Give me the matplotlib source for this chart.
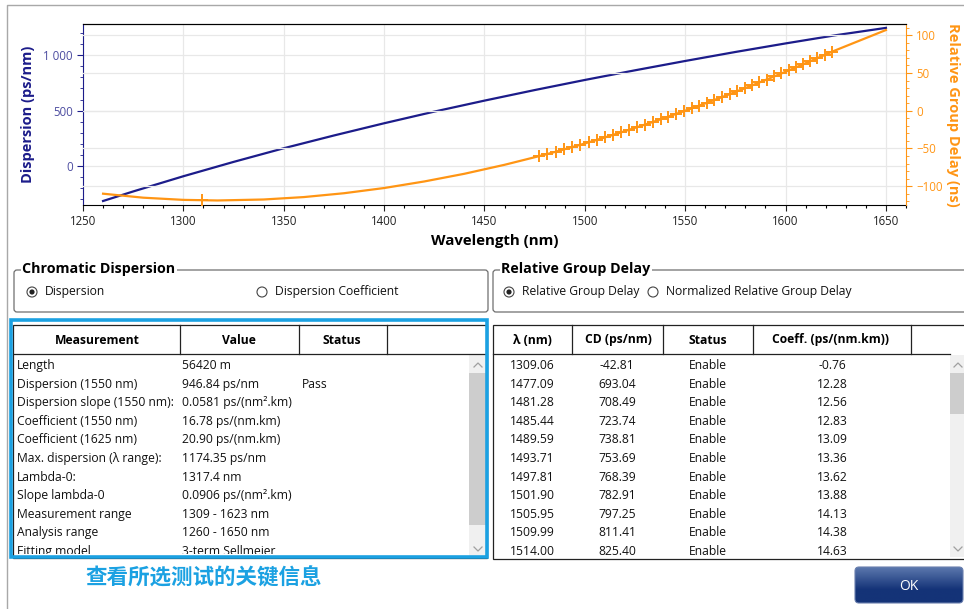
import numpy as np
import matplotlib.pyplot as plt
from matplotlib.patches import Rectangle, FancyBboxPatch, Circle
from matplotlib.ticker import MultipleLocator, FuncFormatter

plt.rcParams['font.family'] = ['Open Sans', 'DejaVu Sans']

# dispersion curve (ps/nm)
disp_wl = [1260, 1275, 1300, 1325, 1350, 1375, 1400, 1425, 1450, 1475, 1500,
           1525, 1550, 1575, 1600, 1625, 1650]
disp_val = [-314, -228, -91, 38, 161, 276, 386, 491, 590, 685, 776,
            863, 947, 1028, 1105, 1179, 1245]

# relative group delay (ns): fitted curve outside the measured points
rgd_head_wl = [1260, 1280, 1300, 1317, 1340, 1360, 1380, 1400, 1420, 1440, 1460]
rgd_head_val = [-110, -115.3, -118.2, -119, -117.7, -114.5, -109.4, -102.5, -93.8, -83.6, -71.7]
rgd_tail_wl = [1650]
rgd_tail_val = [107]

# measured points (markers)
pts_wl = [1309.06, 1477.09, 1481.28, 1485.44, 1489.59, 1493.71, 1497.81, 1501.90,
          1505.95, 1509.99, 1514.00, 1518.00, 1521.98, 1525.94, 1529.88, 1533.80,
          1537.71, 1541.60, 1545.47, 1549.32, 1553.16, 1556.98, 1560.78, 1564.57,
          1568.34, 1572.09, 1575.83, 1579.55, 1583.25, 1586.94, 1590.61, 1594.27,
          1597.91, 1601.53, 1605.14, 1608.74, 1612.32, 1615.88, 1619.43, 1622.97]
pts_val = [-118.8, -60.3, -57.4, -54.4, -51.3, -48.2, -45.1, -41.9,
           -38.7, -35.4, -32.1, -28.7, -25.3, -21.9, -18.4, -15.0,
           -11.4, -7.8, -4.2, -0.6, 3.1, 6.8, 10.5, 14.3,
           18.1, 21.9, 25.8, 29.6, 33.5, 37.5, 41.4, 45.4,
           49.4, 53.4, 57.5, 61.6, 65.7, 69.8, 73.9, 78.1]

# summary table
meas_names = ["Length", "Dispersion (1550 nm)", "Dispersion slope (1550 nm):",
              "Coefficient (1550 nm)", "Coefficient (1625 nm)",
              "Max. dispersion (\u03bb range):", "Lambda-0:", "Slope lambda-0",
              "Measurement range", "Analysis range", "Fitting model"]
meas_values = ["56420 m", "946.84 ps/nm", "0.0581 ps/(nm\u00b2.km)", "16.78 ps/(nm.km)",
               "20.90 ps/(nm.km)", "1174.35 ps/nm", "1317.4 nm", "0.0906 ps/(nm\u00b2.km)",
               "1309 - 1623 nm", "1260 - 1650 nm", "3-term Sellmeier"]
meas_status = ["", "Pass", "", "", "", "", "", "", "", "", ""]

# point table
tab_lam = ["1309.06", "1477.09", "1481.28", "1485.44", "1489.59", "1493.71",
           "1497.81", "1501.90", "1505.95", "1509.99", "1514.00"]
tab_cd = ["-42.81", "693.04", "708.49", "723.74", "738.81", "753.69",
          "768.39", "782.91", "797.25", "811.41", "825.40"]
tab_coef = ["-0.76", "12.28", "12.56", "12.83", "13.09", "13.36",
            "13.62", "13.88", "14.13", "14.38", "14.63"]

navy = '#1c1c8a'
orange = '#ff9514'
cyan = '#1ba1e2'
fs = 8.7

W, H = 964, 609
fig = plt.figure(figsize=(W / 100, H / 100), dpi=100)


def frac(x0, y0, x1, y1):
    return [x0 / W, 1 - y1 / H, (x1 - x0) / W, (y1 - y0) / H]


ui = fig.add_axes([0, 0, 1, 1], zorder=0)
ui.set_xlim(0, W)
ui.set_ylim(H, 0)
ui.axis('off')

# ---- chart ----
ax = fig.add_axes(frac(83, 24, 906, 205), zorder=2)
ax2 = ax.twinx()
ax.plot(disp_wl, disp_val, color=navy, lw=1.6, zorder=3)
line_wl = np.concatenate([rgd_head_wl, pts_wl[1:], rgd_tail_wl])
line_val = np.concatenate([rgd_head_val, pts_val[1:], rgd_tail_val])
ax2.plot(line_wl, line_val, color=orange, lw=1.6)
ax2.plot(pts_wl, pts_val, ls='none', marker='+', ms=8.5, mew=1.4, color=orange)

ax.set_xlim(1250, 1660)
ax.set_ylim(-350, 1280)
ax2.set_ylim(-125, 115)
ax.xaxis.set_major_locator(MultipleLocator(50))
ax.xaxis.set_minor_locator(MultipleLocator(10))
ax.yaxis.set_major_locator(MultipleLocator(500))
ax.yaxis.set_minor_locator(MultipleLocator(100))
ax2.yaxis.set_major_locator(MultipleLocator(50))
ax2.yaxis.set_minor_locator(MultipleLocator(10))
ax.yaxis.set_major_formatter(FuncFormatter(lambda v, p: format(int(v), ',').replace(',', ' ')))
ax.grid(True, color='#e8e8e8', lw=0.9)
ax2.grid(True, axis='y', color='#e8e8e8', lw=0.9)
ax.set_axisbelow(True)
ax2.set_axisbelow(True)

ax.tick_params(axis='x', labelsize=8.3, colors='#222222', length=4, width=0.8)
ax.tick_params(axis='x', which='minor', length=2, width=0.8)
ax.tick_params(axis='y', labelsize=8.3, colors=navy, labelcolor='#4c4ca0', length=4, width=0.8)
ax.tick_params(axis='y', which='minor', length=2, colors=navy)
ax2.tick_params(axis='y', labelsize=8.3, colors=orange, length=4, width=0.8)
ax2.tick_params(axis='y', which='minor', length=2, colors=orange)

ax.spines['left'].set_color(navy)
ax.spines['right'].set_visible(False)
ax2.spines['left'].set_visible(False)
ax2.spines['right'].set_color(orange)
ax2.spines['top'].set_color('black')
ax2.spines['bottom'].set_visible(False)

ax.set_xlabel('Wavelength (nm)', fontsize=10.8, fontweight='bold', labelpad=4)
ax.set_ylabel('Dispersion (ps/nm)', fontsize=10.5, fontweight='bold', color=navy, labelpad=6)
ax2.set_ylabel('Relative Group Delay (ns)', fontsize=10.5, fontweight='bold', color=orange,
               rotation=-90, labelpad=12)

# ---- window frame ----
ui.plot([7, 7, W], [H, 5, 5], color='#a8a8a8', lw=1)

# ---- group boxes ----
def group_box(x0, x1, title, opts, sel):
    ui.add_patch(FancyBboxPatch((x0, 270), x1 - x0, 42,
                                boxstyle='round,pad=0,rounding_size=3',
                                fc='white', ec='#6e6e6e', lw=0.9))
    ui.text(x0 + 8, 269, title, fontsize=10.3, fontweight='bold', va='center', ha='left',
            bbox=dict(fc='white', ec='none', pad=1))
    for i, (ox, label) in enumerate(opts):
        ui.add_patch(Circle((ox, 292), 5, fc='white', ec='#444444', lw=0.8))
        if i == sel:
            ui.add_patch(Circle((ox, 292), 2.6, fc='#222222', ec='none'))
        ui.text(ox + 13, 292, label, fontsize=fs, va='center', ha='left', color='#111111')


group_box(14, 488, 'Chromatic Dispersion', [(32, 'Dispersion'), (262, 'Dispersion Coefficient')], 0)
group_box(493, 990, 'Relative Group Delay',
          [(509, 'Relative Group Delay'), (653, 'Normalized Relative Group Delay')], 0)

# ---- tables ----
row_y = 365 + 18.6 * np.arange(len(meas_names))


def scrollbar(x0, x1, thumb0, thumb1):
    ui.add_patch(Rectangle((x0, 355), x1 - x0, 202, fc='#f0f0f0', ec='none'))
    ui.add_patch(Rectangle((x0, thumb0), x1 - x0, thumb1 - thumb0, fc='#cdcdcd', ec='none'))
    cx = (x0 + x1) / 2
    ui.plot([cx - 4, cx, cx + 4], [367, 363, 367], color='#a0a0a0', lw=0.9)
    ui.plot([cx - 4, cx, cx + 4], [547, 551, 547], color='#a0a0a0', lw=0.9)


# left table
ui.add_patch(Rectangle((13, 325), 474, 233, fc='white', ec='#222222', lw=0.9))
ui.plot([13, 487], [354, 354], color='#222222', lw=0.9)
for sx in [180, 299, 387]:
    ui.plot([sx, sx], [325, 354], color='#222222', lw=0.9)
for cx, lab in [(97, 'Measurement'), (239, 'Value'), (342, 'Status')]:
    ui.text(cx, 340, lab, fontsize=fs, fontweight='bold', ha='center', va='center')
scrollbar(469, 487, 373, 525)
clip_l = Rectangle((13, 355), 456, 199, transform=ui.transData)
for y, n, v, s in zip(row_y, meas_names, meas_values, meas_status):
    for x, t in [(17, n), (182, v), (302, s)]:
        tt = ui.text(x, y + 0.5, t, fontsize=fs, ha='left', va='center', color='#111111')
        tt.set_clip_on(True)
        tt.set_clip_path(clip_l)

# highlight frame
ui.add_patch(Rectangle((11, 320), 476, 237, fill=False, ec=cyan, lw=2.6, zorder=5))
ui.text(204, 578, '查看所选测试的关键信息', fontsize=15.5, fontweight='bold', color=cyan,
        ha='center', va='center', family=['Noto Sans CJK SC', 'DejaVu Sans'])

# right table
ui.add_patch(Rectangle((493, 325), 500, 234, fc='white', ec='#222222', lw=0.9))
ui.plot([493, 950], [354, 354], color='#222222', lw=0.9)
for sx in [572, 663, 753, 911]:
    ui.plot([sx, sx], [325, 354], color='#222222', lw=0.9)
for cx, lab in [(532, '\u03bb (nm)'), (618, 'CD (ps/nm)'), (708, 'Status'),
                (831, 'Coeff. (ps/(nm.km))')]:
    ui.text(cx, 340, lab, fontsize=fs, fontweight='bold', ha='center', va='center')
scrollbar(950, 966, 373, 414)
for y, a, b, c in zip(row_y, tab_lam, tab_cd, tab_coef):
    ui.text(532, y + 0.5, a, fontsize=fs, ha='center', va='center', color='#111111')
    ui.text(617, y + 0.5, b, fontsize=fs, ha='center', va='center', color='#111111')
    ui.text(708, y + 0.5, 'Enable', fontsize=fs, ha='center', va='center', color='#111111')
    ui.text(832, y + 0.5, c, fontsize=fs, ha='center', va='center', color='#111111')

# OK button with a vertical gradient
btn = FancyBboxPatch((855, 567), 108, 36, boxstyle='round,pad=0,rounding_size=4',
                     fc='none', ec='#6a7fae', lw=0.8, zorder=3)
ui.add_patch(btn)
grad = np.linspace(0, 1, 64).reshape(-1, 1)
top = np.array([0.36, 0.47, 0.68])
bot = np.array([0.08, 0.20, 0.47])
img = top + (bot - top) * np.clip(grad * 1.6, 0, 1)[..., None] * np.ones((1, 1, 3))
im = ui.imshow(img.reshape(64, 1, 3), extent=(855, 963, 603, 567), aspect='auto', zorder=2)
im.set_clip_path(btn)
ui.set_xlim(0, W)
ui.set_ylim(H, 0)
ui.text(909, 586, 'OK', fontsize=10, color='white', ha='center', va='center', zorder=4)

fig.savefig('out.png', dpi=100)
